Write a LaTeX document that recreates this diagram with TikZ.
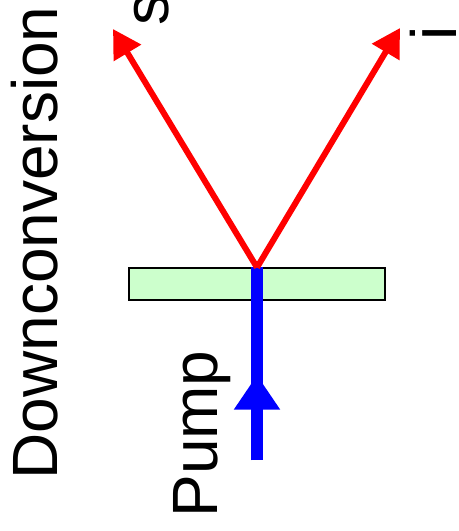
\documentclass[tikz,border=0pt]{standalone}
\usepackage{fontspec}
\setmainfont{Liberation Sans}
\usetikzlibrary{positioning,arrows.meta}

\begin{document}
\begin{tikzpicture}[x=0.75pt,y=-0.75pt,
  big/.style={font=\fontsize{48}{56}\selectfont,inner sep=0pt,anchor=base,rotate=90},
  beam/.style={red,line width=4.5pt},
  pump/.style={blue,line width=8.5pt}]
\useasboundingbox (0,0) rectangle (459,531);
\node[big] (title) at (57,243) {Downconversion};
\node[draw=black,line width=0.8pt,fill=green!20,minimum width=192pt,minimum height=24pt,inner sep=0pt] (xtal) at (257,284) {};
\coordinate (src) at (257,460);
\coordinate (mid) at (257,375);
\coordinate (sig) at (113,29);
\coordinate (idl) at (400,28);
\draw[pump] (src) -- (xtal.north);
\draw[pump,-{Triangle[length=26pt,width=33pt]}] (src) -- (mid);
\draw[beam,-{Triangle[length=21pt,width=23pt]}] (xtal.north) -- (sig);
\draw[beam,-{Triangle[length=21pt,width=23pt]}] (xtal.north) -- (idl);
\node[big] (pumplbl) at (217,434) {Pump};
\node[big] (slbl) at (168,10) {s};
\node[big] (ilbl) at (456,33) {i};
\end{tikzpicture}
\end{document}
